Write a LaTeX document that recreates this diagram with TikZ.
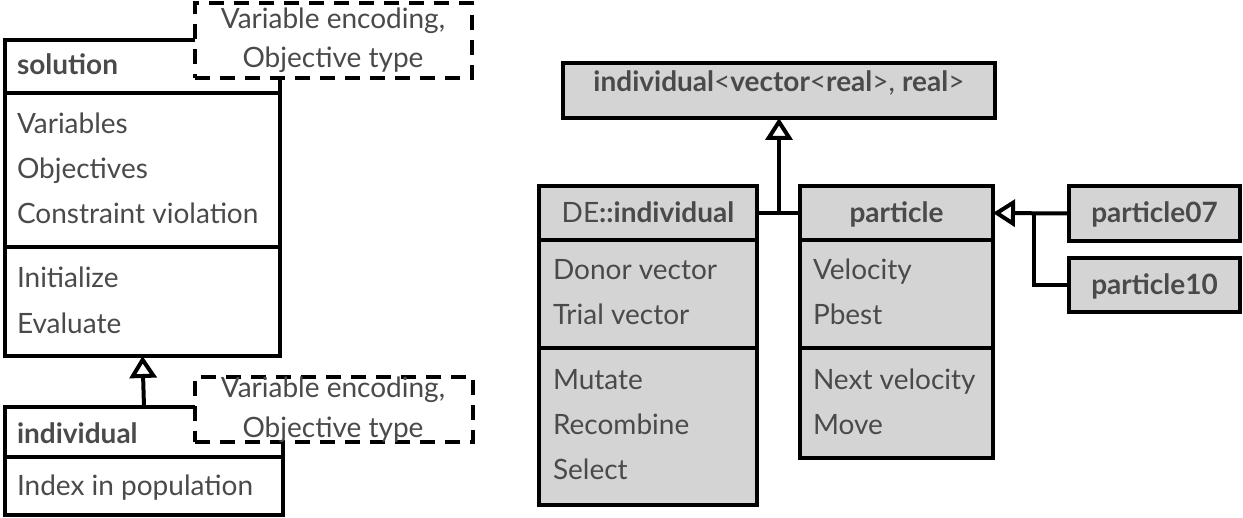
\documentclass[tikz,border=0pt]{standalone}
\usepackage{fontspec}
\setmainfont{Lato}
\usetikzlibrary{arrows.meta,calc}
\definecolor{txt}{HTML}{4A4A4A}
\definecolor{boxfill}{HTML}{D4D4D4}
\begin{document}
\begin{tikzpicture}[x=1pt,y=-1pt,
  every node/.style={font=\fontsize{28}{32}\selectfont, text=txt, inner sep=0pt, outer sep=0pt},
  bfnt/.style={font=\fontsize{28}{32}\selectfont\bfseries},
  comp/.style={draw=black, line width=4pt, anchor=north west, minimum width=#1, inner sep=0pt},
  gcomp/.style={comp=#1, fill=boxfill},
  tmpl/.style={draw=black, line width=4pt, dash pattern=on 15pt off 10pt, fill=white, anchor=north west, minimum width=#1},
  lbl/.style={anchor=base west},
  clbl/.style={anchor=base},
  conn/.style={draw=black, line width=4pt},
  inh/.style={conn, -{Triangle[open, length=22pt, width=27pt]}}
]
\useasboundingbox (0,0) rectangle (1243,518);
% ---------- solution
\node[comp=275, minimum height=53] (solh) at (5,40) {};
\node[comp=275, minimum height=154] (sola) at (5,93) {};
\node[comp=275, minimum height=109] (solm) at (5,247) {};
\node[lbl, bfnt] (solt) at (17,75) {solution};
\node[lbl] (s1) at (17,134) {Variables};
\node[lbl] (s2) at (17,179) {Objectives};
\node[lbl] (s3) at (17,224) {Constraint violation};
\node[lbl] (s4) at (17,288) {Initialize};
\node[lbl] (s5) at (17,334) {Evaluate};
\node[tmpl=277, minimum height=75] (t1) at (195,3) {};
\node[clbl] (t1a) at (333,29) {Variable encoding,};
\node[clbl] (t1b) at (333,68) {Objective type};
% ---------- individual (left)
\node[comp=278, minimum height=50] (indh) at (5,407) {};
\node[comp=278, minimum height=58] (inda) at (5,457) {};
\node[lbl, bfnt] (indt) at (17,444) {individual};
\node[lbl] (i1) at (17,496) {Index in population};
\node[tmpl=278, minimum height=65] (t2) at (195,377) {};
\node[clbl] (t2a) at (333,398) {Variable encoding,};
\node[clbl] (t2b) at (333,438) {Objective type};
\draw[inh] (indh.north) -- (solm.south);
% ---------- right part
\node[gcomp=432, minimum height=55] (top) at (563,63) {};
\node[clbl] (topt) at (top.center |- 0,92) {\textbf{individual}<\textbf{vector}<\textbf{real}>, \textbf{real}>};
% DE::individual
\node[gcomp=218, minimum height=54] (deh) at (539,186) {};
\node[gcomp=218, minimum height=108] (dea) at (539,240) {};
\node[gcomp=218, minimum height=157] (dem) at (539,348) {};
\node[clbl] (det) at (deh.center |- 0,223) {DE\textbf{::individual}};
\node[lbl] (d1) at (553,280) {Donor vector};
\node[lbl] (d2) at (553,325) {Trial vector};
\node[lbl] (d3) at (553,390) {Mutate};
\node[lbl] (d4) at (553,435) {Recombine};
\node[lbl] (d5) at (553,480) {Select};
% particle
\node[gcomp=193, minimum height=54] (ph) at (800,186) {};
\node[gcomp=193, minimum height=108] (pa) at (800,240) {};
\node[gcomp=193, minimum height=110] (pm) at (800,348) {};
\node[clbl, bfnt] (pt) at (ph.center |- 0,223) {particle};
\node[lbl] (p1) at (813,280) {Velocity};
\node[lbl] (p2) at (813,325) {Pbest};
\node[lbl] (p3) at (813,390) {Next velocity};
\node[lbl] (p4) at (813,435) {Move};
% particle07 / particle10
\node[gcomp=171, minimum height=55] (p07) at (1069,186) {};
\node[clbl, bfnt] (p07t) at (p07.center |- 0,223) {particle07};
\node[gcomp=171, minimum height=54] (p10) at (1069,258) {};
\node[clbl, bfnt] (p10t) at (p10.center |- 0,295) {particle10};
% connectors
\draw[conn] (deh.east) -- (ph.west);
\draw[inh] (top.south |- deh.east) -- (top.south);
\draw[inh] (p07.west) -- (ph.east);
\coordinate (j2) at (1034,213);
\draw[conn] (p10.west) -| (j2 |- p07.west);
\end{tikzpicture}
\end{document}
